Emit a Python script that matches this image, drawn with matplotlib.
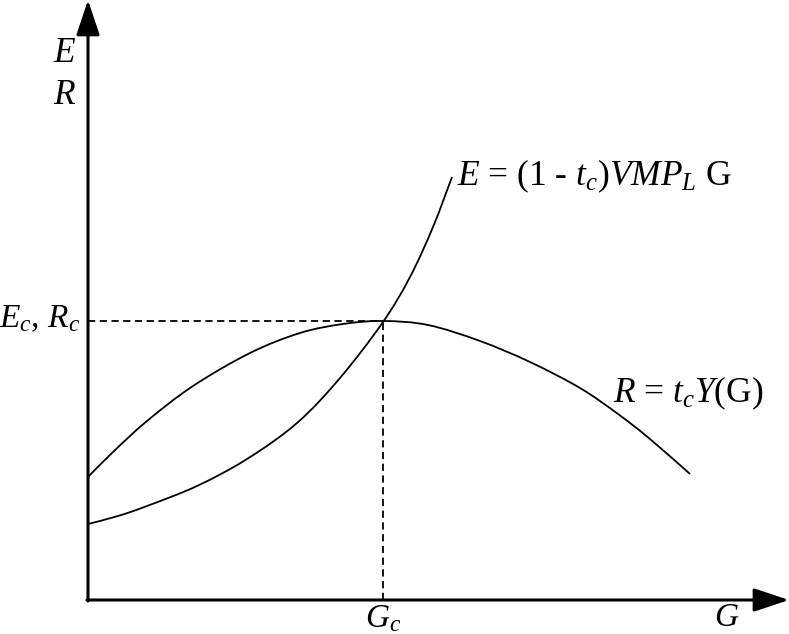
import numpy as np
import matplotlib.pyplot as plt
from matplotlib.path import Path
from matplotlib.patches import PathPatch

plt.rcParams['font.family'] = ['Liberation Serif', 'DejaVu Serif']
plt.rcParams['mathtext.fontset'] = 'custom'
plt.rcParams['mathtext.rm'] = 'Liberation Serif'
plt.rcParams['mathtext.it'] = 'Liberation Serif:italic'

# curve R = tc Y(G)
g_r = [0, 25, 59, 105, 162, 212, 255, 295, 340, 392, 442, 492, 530, 562, 602]
v_r = [123, 148, 179, 214, 247, 267, 276, 279, 275, 259, 238, 212, 186, 161, 126]
# curve E = (1 - tc) VMP_L G
g_e = [0, 30, 59, 109, 159, 209, 252, 295, 322, 345, 364]
v_e = [76, 84, 94, 114, 141, 177, 222, 278, 323, 373, 423]
# critical point
g_c = 295
v_c = 279


def smooth_path(xs, ys):
    # catmull-rom through the read points, drawn as bezier segments
    p = np.column_stack([xs, ys]).astype(float)
    p = np.vstack([p[0], p, p[-1]])
    verts = [p[1]]
    codes = [Path.MOVETO]
    for i in range(1, len(p) - 2):
        c1 = p[i] + (p[i + 1] - p[i - 1]) / 6
        c2 = p[i + 1] - (p[i + 2] - p[i]) / 6
        verts += [c1, c2, p[i + 1]]
        codes += [Path.CURVE4] * 3
    return Path(verts, codes)


fig = plt.figure(figsize=(7.89, 6.34), dpi=100)
ax = fig.add_axes([0, 0, 1, 1])
ax.set_xlim(-88, 701)
ax.set_ylim(-34, 600)
ax.axis('off')

# axes with arrows
arr = dict(arrowstyle='-|>,head_length=1.2,head_width=0.4', lw=2.2, color='k',
           mutation_scale=18, shrinkA=0, shrinkB=0)
ax.annotate('', xy=(0, 600), xytext=(0, -1), arrowprops=arr)
ax.annotate('', xy=(701, 0), xytext=(-1, 0), arrowprops=arr)

ax.add_patch(PathPatch(smooth_path(g_r, v_r), fill=False, color='k', lw=1.3))
ax.add_patch(PathPatch(smooth_path(g_e, v_e), fill=False, color='k', lw=1.3))

# dashed guides
ax.plot([0, g_c], [v_c, v_c], color='k', lw=1.3, ls=(0, (4, 2.5)))
ax.plot([g_c, g_c], [0, v_c], color='k', lw=1.3, ls=(0, (4, 2.5)))

fs = 25.5
ax.text(-23, 547, '$E$', fontsize=fs, ha='center', va='center')
ax.text(-23, 504, '$R$', fontsize=fs, ha='center', va='center')
ax.text(-8, 273, '$E_c$, $R_c$', fontsize=24, ha='right', va='baseline')
ax.text(369, 415, '$E$ = (1 - $t_c$)$VMP_L$ G', fontsize=fs, ha='left', va='baseline')
ax.text(525, 198, '$R$ = $t_cY$(G)', fontsize=fs, ha='left', va='baseline')
ax.text(g_c, -3, '$G_c$', fontsize=24, ha='center', va='top')
ax.text(639, -3, '$G$', fontsize=24, ha='center', va='top')

fig.savefig('out.png', dpi=100)
